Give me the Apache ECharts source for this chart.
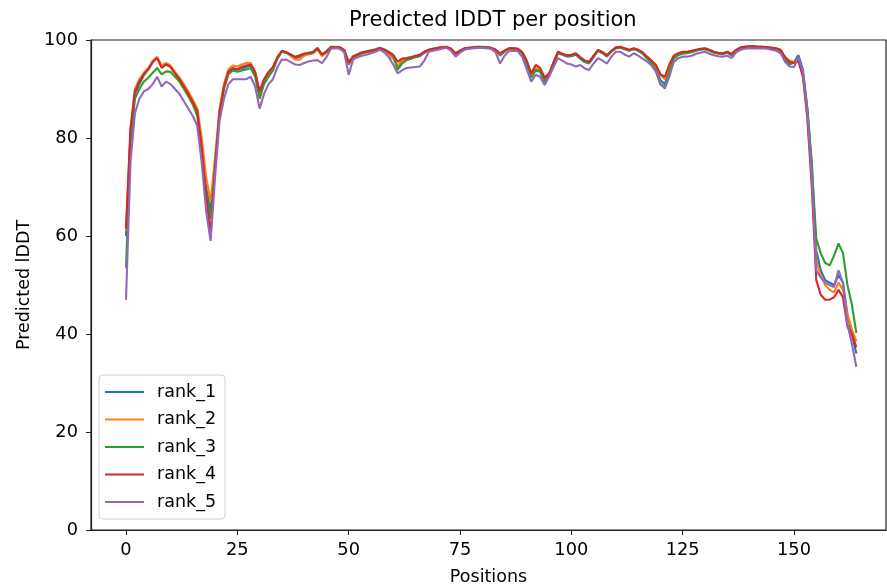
<!DOCTYPE html>
<html>
<head>
<meta charset="utf-8">
<script src="https://cdn.jsdelivr.net/npm/echarts@6/dist/echarts.min.js"></script>
<style>html,body{margin:0;padding:0;background:#fff}#c{width:887px;height:585px}</style>
</head>
<body>
<div id="c"></div>
<script>
const seriesNames = ['rank_1','rank_2','rank_3','rank_4','rank_5'];
const xTicks = [0,25,50,75,100,125,150];
const yTicks = [0,20,40,60,80,100];

const rank_1 = [60,80,89,91,92.8,94,95.5,96.5,94.5,95,94.5,93.3,92.2,90.8,89.2,87.5,85.8,79,70,65,
75,85.5,90.5,93.3,94,94,94.2,94.5,94.8,93.2,89,91.5,93,94.2,96.3,97.6,97.4,96.8,96.3,96.6,
97,97.1,97.3,98.1,96.8,97.5,98.4,98.4,98.4,97.8,95,96.5,96.9,97.3,97.5,97.7,97.9,98.2,97.9,97.3,
96.5,94.5,95.5,96,96.2,96.5,96.7,97.4,97.9,98.1,98.3,98.4,98.5,98.1,97.1,97.7,98.2,98.3,98.4,98.5,
98.5,98.4,98.3,97.9,96.8,97.6,98.2,98.2,98.1,97.2,95,92.5,93.8,93.5,91.5,92.8,95,97.3,97,96.6,
96.7,97,96.2,95.5,95.2,96.5,97.8,97.3,96.6,97.6,98.3,98.4,98.1,97.8,98.1,97.8,97.2,96.3,95.3,94,
91.8,91,94,96.5,97.1,97.4,97.4,97.6,97.9,98.1,98.2,97.9,97.5,97.3,97.2,97.5,97,97.9,98.4,98.6,
98.7,98.7,98.6,98.6,98.5,98.4,98.2,97.8,96,95,95.5,96.9,94,86,75,57,53,51,50.5,50,
52,50.5,44,40,36];

const rank_2 = [61,81,90,92,93.3,94.3,95.8,96.5,94.8,95.3,94.8,93.5,92.3,91,89.5,87.8,86,80,72,67,
76,86,91,94,94.8,94.6,95,95.3,95.3,93.5,89.2,91.8,93.3,94.4,96.5,97.7,97.5,96.8,96,96,
96.8,97.2,97.4,98.2,96.7,97.4,98.4,98.5,98.5,97.9,95.2,96.6,97,97.4,97.6,97.7,97.9,98.2,97.8,97,
96.2,94.8,95.8,96.1,96.4,96.7,96.9,97.5,97.9,98.1,98.3,98.4,98.5,98.1,97.2,97.7,98.2,98.3,98.4,98.5,
98.5,98.4,98.3,97.9,97,97.7,98.2,98.2,98.1,97.4,95.5,93,94.5,94,92.5,93,95.3,97.4,97.1,96.8,
96.9,97.2,96.4,95.7,95.4,96.7,97.9,97.4,96.8,97.7,98.4,98.5,98.2,97.9,98.2,97.9,97.4,96.5,95.7,94.7,
92.8,92,94.5,96.6,97.2,97.5,97.5,97.7,97.9,98.1,98.2,97.9,97.5,97.3,97.2,97.5,97.1,97.9,98.4,98.5,
98.6,98.6,98.5,98.5,98.4,98.3,98.2,97.8,96.5,95.8,95.5,96.3,93,84.5,72,55,52,50,49,48.5,
50.5,49,44,41,38.5];

const rank_3 = [53.5,79,88,90,91.5,92.3,93.3,94.3,93,93.6,93.5,92.5,91.5,90,88.5,86.8,84.5,77,68.5,63.5,
74,85,90,93,93.8,93.5,93.8,94,94.3,92.5,88,91,92.5,93.8,96.2,97.6,97.4,97,96.6,96.9,
97.2,97.4,97.6,98.4,97.1,97.7,98.6,98.6,98.5,98,95.5,96.7,97.1,97.5,97.7,97.9,98.1,98.4,98.1,97.6,
96.8,93.9,95.2,95.9,96.2,96.6,96.9,97.6,98,98.2,98.4,98.5,98.6,98.2,97.2,97.8,98.3,98.4,98.5,98.6,
98.6,98.5,98.4,98,97.1,97.8,98.3,98.3,98.2,97.4,95.3,92.3,93.9,93.7,91.3,92.9,95.2,97.5,97.1,96.8,
96.9,97.2,96.3,95.6,95.3,96.7,97.9,97.4,96.8,97.7,98.4,98.5,98.2,97.9,98.2,97.9,97.3,96.2,95.2,93.8,
91,90.5,93.5,96.2,96.9,97.2,97.3,97.5,97.8,98,98.1,97.8,97.4,97.2,97.1,97.4,96.8,97.8,98.3,98.5,
98.6,98.6,98.5,98.5,98.4,98.3,98.1,97.6,96,95.2,95.3,96.2,93.5,86,74,59.5,56.5,54.5,54,56,
58.5,56.5,50,46,40.2];

const rank_4 = [61.5,82,89.5,91.5,93,94,95.5,96.3,94.3,95,94.5,93.2,92,90.5,89,87.3,85.5,78,68,60.5,
74,85,90.5,93.5,94.3,94,94.5,94.8,95,93.5,89.5,92,93.5,94.5,96.5,97.8,97.5,97,96.5,96.8,
97.2,97.3,97.5,98.3,97,97.6,98.5,98.5,98.5,98,95.3,96.6,97,97.4,97.6,97.8,98,98.3,98,97.5,
97,95.6,96.2,96.3,96.5,96.8,97,97.6,98,98.2,98.4,98.5,98.6,98.2,97.3,97.8,98.3,98.4,98.5,98.6,
98.5,98.5,98.4,98,97.3,97.8,98.3,98.3,98.2,97.5,95.8,93.2,94.9,94.3,92.2,93.2,95.5,97.6,97.2,96.9,
97,97.3,96.5,95.8,95.6,96.8,98,97.5,96.9,97.8,98.5,98.6,98.3,98,98.3,98,97.5,96.6,95.8,94.9,
93,92.5,95,96.8,97.3,97.6,97.6,97.8,98,98.2,98.3,98,97.6,97.4,97.3,97.6,97.2,98,98.5,98.6,
98.7,98.7,98.6,98.6,98.5,98.4,98.3,98,96.5,95.5,95.3,95.6,92.5,84,70,51,48,47,47,47.5,
49,47.5,41.5,40,37.3];

const rank_5 = [47,75,85,88,89.5,90,91,92.5,90.5,91.5,91,90,89,87.5,86,84.5,82.5,75,65,59,
72,83.5,88,91,92,92,92,92,92.5,90.5,86,89,91,92,94.5,96,96,95.5,95,94.9,
95.3,95.6,95.8,95.9,95.3,96.5,98.2,98.3,98.2,97.5,92.9,96,96.5,96.8,97,97.3,97.6,98,97.5,96.5,
95,93.2,93.8,94.3,94.4,94.5,94.6,95.8,97.6,97.8,98,98.2,98.4,97.8,96.6,97.4,98,98.2,98.3,98.4,
98.4,98.3,98.2,97.5,95.2,96.8,97.7,97.8,97.7,96.5,94,91.5,92.9,92.5,90.8,92.5,94.5,96.3,95.8,95.2,
95,94.6,94.9,94.2,93.9,95.2,96.3,95.8,95.2,96.6,97.6,97.6,97,96.6,97.3,96.8,96.2,95.6,94.8,93.5,
91,90.1,92.5,95.5,96.3,96.6,96.6,96.8,97.2,97.4,97.6,97.2,96.9,96.7,96.6,96.8,96.3,97.5,98,98.2,
98.3,98.3,98.3,98.3,98.2,98,97.8,97.3,95.5,94.6,94.5,96.5,93.5,85,72,53,51.5,50.5,50,49.6,
53,50.4,42,38,33.3];

const allSeries = [rank_1, rank_2, rank_3, rank_4, rank_5];
const colors = ['#1f77b4','#ff7f0e','#2ca02c','#d62728','#9467bd'];
const positions = rank_1.map((_, i) => i);

const FONT = 'DejaVu Sans';
const chart = echarts.init(document.getElementById('c'), null, {renderer: 'canvas'});
chart.setOption({
  animation: false,
  backgroundColor: '#fff',
  color: colors,
  textStyle: {fontFamily: FONT},
  title: {
    text: 'Predicted lDDT per position',
    left: 344, top: 5,
    textStyle: {fontFamily: FONT, fontSize: 21, fontWeight: 'normal', color: '#000'}
  },
  grid: {
    left: 91, right: 1, top: 40, bottom: 55,
    containLabel: false, outerBoundsMode: 'none',
    show: true, borderColor: '#222', borderWidth: 1.2, backgroundColor: 'transparent'
  },
  legend: {
    orient: 'vertical', left: 99, top: 375,
    data: seriesNames,
    icon: 'rect', itemWidth: 39, itemHeight: 2.2, itemGap: 7.5,
    padding: [7, 9, 7, 6],
    backgroundColor: '#fff', borderColor: '#d0d0d0', borderWidth: 1, borderRadius: 4,
    textStyle: {fontFamily: FONT, fontSize: 17.5, color: '#000', lineHeight: 20, padding: [0,0,0,8]}
  },
  xAxis: {
    type: 'value', min: -7.86, max: 170.66,
    name: 'Positions', nameLocation: 'middle', nameGap: 38,
    nameTextStyle: {fontFamily: FONT, fontSize: 17.5, color: '#000'},
    axisLine: {show: true, onZero: false, lineStyle: {color: '#222', width: 1.2}},
    axisTick: {show: true, inside: false, length: 5, customValues: xTicks, lineStyle: {color: '#222'}},
    axisLabel: {customValues: xTicks, margin: 11, fontFamily: FONT, fontSize: 17.8, color: '#000'},
    splitLine: {show: false}
  },
  yAxis: {
    type: 'value', min: 0, max: 100, interval: 20,
    name: 'Predicted lDDT', nameLocation: 'middle', nameGap: 53,
    nameTextStyle: {fontFamily: FONT, fontSize: 17.5, color: '#000'},
    axisLine: {show: true, onZero: false, lineStyle: {color: '#222', width: 1.2}},
    axisTick: {show: true, inside: false, length: 5, lineStyle: {color: '#222'}},
    axisLabel: {margin: 13, fontFamily: FONT, fontSize: 17.8, color: '#000'},
    splitLine: {show: false}
  },
  series: allSeries.map((vals, k) => ({
    name: seriesNames[k],
    type: 'line',
    data: positions.map((p, i) => [p, vals[i]]),
    showSymbol: false, symbol: 'none',
    lineStyle: {width: 2.1, color: colors[k]},
    itemStyle: {color: colors[k]},
    z: 2 + k
  }))
});
</script>
</body>
</html>
